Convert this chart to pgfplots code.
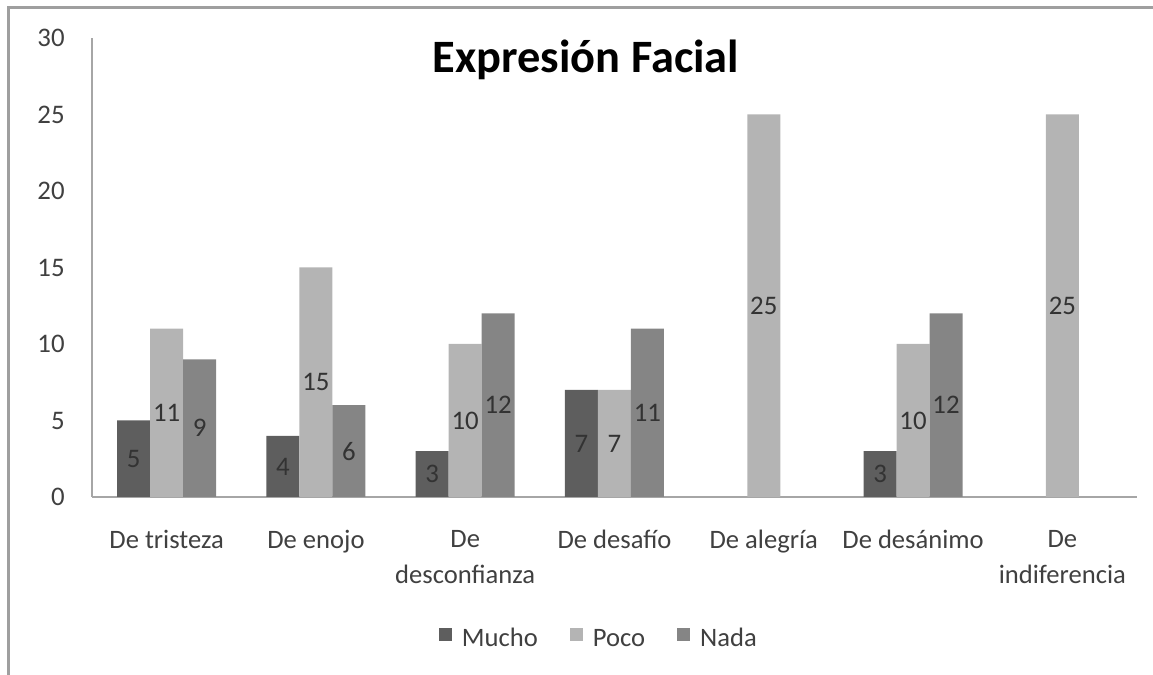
\documentclass[border=0pt]{standalone}
\usepackage{pgfplots}
\pgfplotsset{compat=1.18}
\usepackage{fontspec}
\setmainfont{Carlito}

\definecolor{mucho}{HTML}{5E5E5E}
\definecolor{poco}{HTML}{B4B4B4}
\definecolor{nada}{HTML}{858585}
\definecolor{txt}{HTML}{404040}
\definecolor{axisgray}{HTML}{A6A6A6}

\begin{document}
\begin{tikzpicture}
\path[use as bounding box] (0pt,0pt) rectangle (576.5pt,337.5pt);
\draw[color=gray!75, line width=1.5pt] (4pt,0pt) -- (4pt,333.5pt) -- (576.5pt,333.5pt);
\node[anchor=base, font=\fontsize{23.2}{28}\selectfont\bfseries] at (293pt,301pt) {Expresión Facial};

\begin{axis}[
    at={(46pt,89pt)}, anchor=south west,
    scale only axis,
    width=522.5pt, height=229.5pt,
    ybar=0pt, bar width=16.5pt,
    ymin=0, ymax=30, ytick={0,5,...,30},
    xmin=-0.5, xmax=6.5, xtick={0,...,6},
    xticklabels={De tristeza, De enojo, {De\\desconfianza}, De desafío, De alegría, De desánimo, {De\\indiferencia}},
    axis x line*=bottom, axis y line*=left,
    axis line style={draw=axisgray, line width=0.6pt, -},
    major tick length=0pt,
    /pgf/number format/assume math mode=true,
    tick label style={text=txt},
    yticklabel style={font=\fontsize{13.4}{16}\selectfont, anchor=east, inner sep=0pt, xshift=-13.5pt},
    xticklabel style={font=\fontsize{13.3}{18}\selectfont, align=center, anchor=north, inner sep=0pt, yshift=-16.5pt},
    visualization depends on=rawy \as \rawy,
    nodes near coords,
    every node near coord/.append style={anchor=center, inner sep=0pt, text=black!80,
        font=\fontsize{13.4}{16}\selectfont, yshift={-3.825pt*\rawy}},
    legend style={draw=none, at={(0.486,-0.3115)}, anchor=center, legend columns=3,
        font=\fontsize{13.3}{16}\selectfont, text=txt,
        nodes={text height=1.6ex, text depth=0.2ex},
        /tikz/every odd column/.append style={column sep=3pt},
        /tikz/every even column/.append style={column sep=14pt}},
    legend image code/.code={\fill[#1] (0pt,-0.5pt) rectangle (6.5pt,6pt);},
]
\addplot[fill=mucho, draw=none] coordinates {(0,5) (1,4) (2,3) (3,7) (5,3)};
\addplot[fill=poco, draw=none] coordinates {(0,11) (1,15) (2,10) (3,7) (4,25) (5,10) (6,25)};
\addplot[fill=nada, draw=none] coordinates {(0,9) (1,6) (2,12) (3,11) (5,12)};
\legend{Mucho, Poco, Nada}
\end{axis}
\end{tikzpicture}
\end{document}
